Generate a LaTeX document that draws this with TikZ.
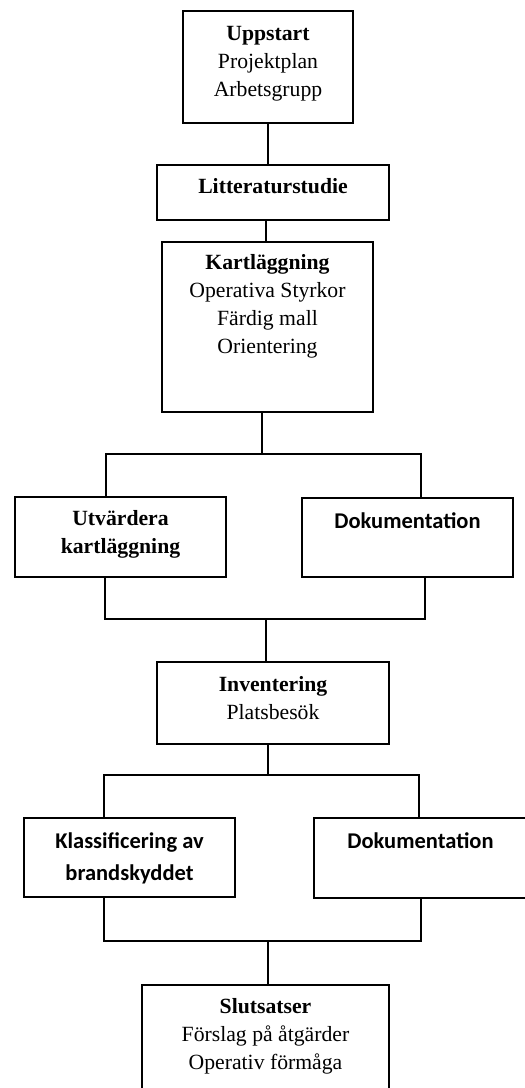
\documentclass[tikz,border=0pt]{standalone}
\usepackage{fontspec}
\setmainfont{Liberation Serif}
\newfontfamily\carlito{Carlito}
\usepackage{tikz}
\usetikzlibrary{positioning}
\tikzset{
  stage/.style={draw, line width=1.5pt, rectangle, inner sep=0pt},
  stagetext/.style={align=center, inner sep=0pt, anchor=base, font=\fontsize{21.7}{28}\selectfont},
  doctext/.style={align=center, inner sep=0pt, anchor=base, font={\carlito\bfseries\fontsize{22.5}{32}\selectfont}},
  link/.style={line width=1.5pt}
}

\begin{document}
\begin{tikzpicture}[x=1pt, y=-1pt]

\useasboundingbox (0,0) rectangle (525,1088);

% ---------- Uppstart ----------
% (text nodes sit on the baseline of their last line)
\node[stage, minimum width=170pt, minimum height=112pt] (up) at (268,67) {};
\node[stagetext] (uptext) at ([yshift=-86pt]up.north) {\textbf{Uppstart}\\Projektplan\\Arbetsgrupp};

% ---------- Litteraturstudie ----------
\node[stage, minimum width=232pt, minimum height=55pt] (lit) at (273,192.5) {};
\node[stagetext] (littext) at ([yshift=-29pt]lit.north) {\textbf{Litteraturstudie}};

% ---------- Kartläggning ----------
\node[stage, minimum width=211pt, minimum height=170pt] (kart) at (267.5,327) {};
\node[stagetext] (karttext) at ([yshift=-112pt]kart.north) {\textbf{Kartläggning}\\Operativa Styrkor\\Färdig mall\\Orientering};

% ---------- Utvärdera / Dokumentation ----------
\node[stage, minimum width=211pt, minimum height=80pt] (utv) at (120.5,537) {};
\node[stagetext] (utvtext) at ([yshift=-57pt]utv.north) {\textbf{Utvärdera}\\\textbf{kartläggning}};

\node[stage, minimum width=211pt, minimum height=79pt] (dok1) at (407.5,537.5) {};
\node[doctext] (dok1text) at ([yshift=-31pt]dok1.north) {Dokumentation};

% ---------- Inventering ----------
\node[stage, minimum width=232pt, minimum height=82pt] (inv) at (273,703) {};
\node[stagetext] (invtext) at ([yshift=-58pt]inv.north) {\textbf{Inventering}\\Platsbesök};

% ---------- Klassificering / Dokumentation ----------
\node[stage, minimum width=211pt, minimum height=79pt] (kla) at (129.5,857.5) {};
\node[doctext] (klatext) at ([yshift=-63pt]kla.north) {Klassificering av\\brandskyddet};

\node[stage, minimum width=213pt, minimum height=80pt] (dok2) at (420.5,858) {};
\node[doctext] (dok2text) at ([yshift=-31pt]dok2.north) {Dokumentation};

% ---------- Slutsatser ----------
\node[stage, minimum width=247pt, minimum height=125pt] (slut) at (265.5,1047.5) {};
\node[stagetext] (suttext) at ([yshift=-85pt]slut.north) {\textbf{Slutsatser}\\Förslag på åtgärder\\Operativ förmåga};

% ---------- Connectors ----------
\draw[link] (up.south) -- (up.south |- lit.north);
\draw[link] ([xshift=-1.5pt]kart.north) -- ([xshift=-1.5pt]kart.north |- lit.south);

\coordinate (split1) at (262,454);
\coordinate (split1l) at (106,454);
\coordinate (split1r) at (421,454);
\draw[link] (kart.south -| split1) -- (split1);
\draw[link] (split1l |- utv.north) -- (split1l) -- (split1r) -- (split1r |- dok1.north);

\coordinate (merge1) at (266,619);
\coordinate (merge1l) at (105,619);
\coordinate (merge1r) at (425,619);
\draw[link] (utv.south -| merge1l) -- (merge1l) -- (merge1r) -- (dok1.south -| merge1r);
\draw[link] (merge1) -- (merge1 |- inv.north);

\coordinate (split2) at (268,775);
\coordinate (split2l) at (104,775);
\coordinate (split2r) at (419,775);
\draw[link] (inv.south -| split2) -- (split2);
\draw[link] (split2l |- kla.north) -- (split2l) -- (split2r) -- (split2r |- dok2.north);

\coordinate (merge2) at (268,941);
\coordinate (merge2l) at (104,941);
\coordinate (merge2r) at (421,941);
\draw[link] (kla.south -| merge2l) -- (merge2l) -- (merge2r) -- (dok2.south -| merge2r);
\draw[link] (merge2) -- (merge2 |- slut.north);

\end{tikzpicture}
\end{document}
